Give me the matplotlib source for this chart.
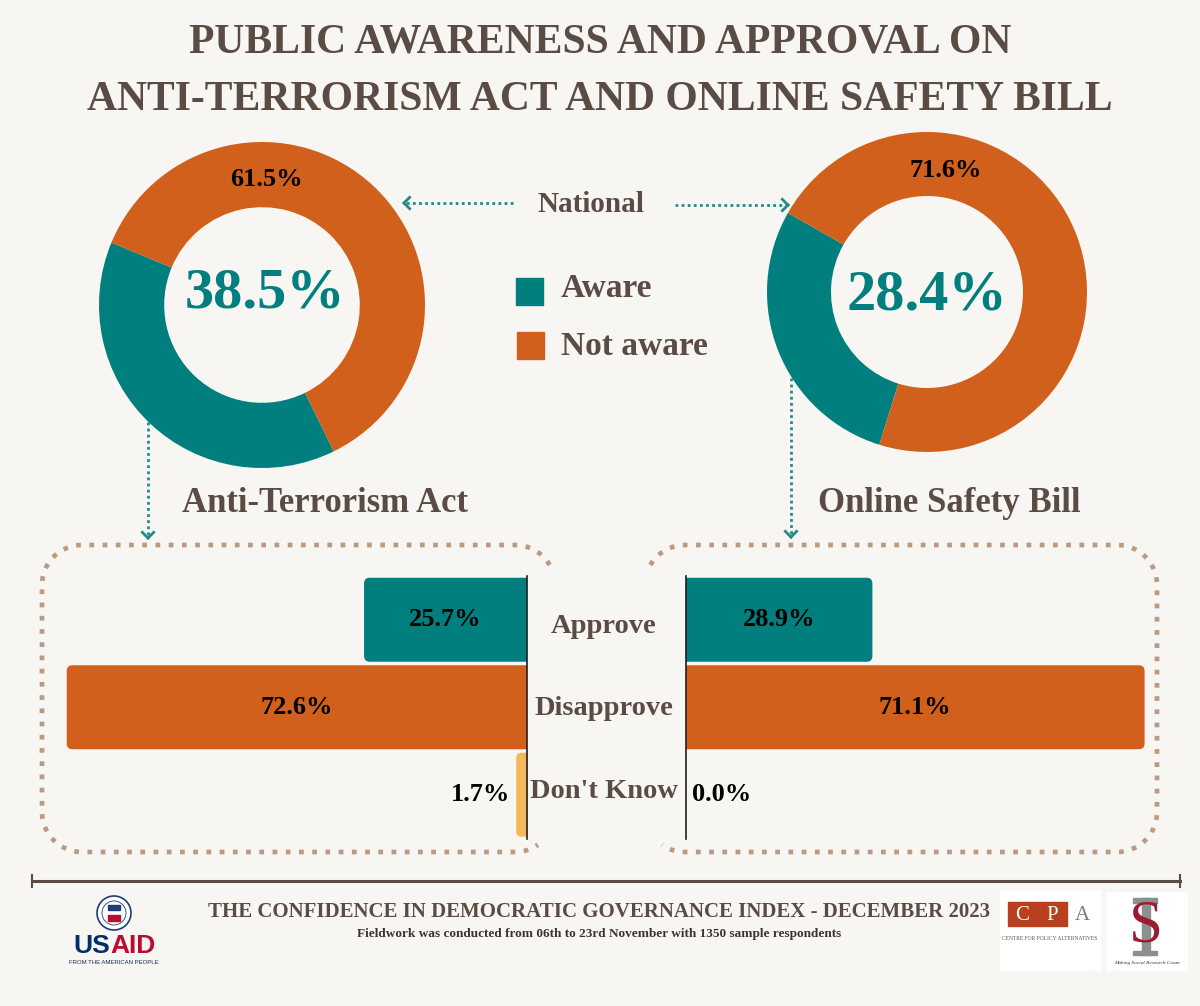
import matplotlib.pyplot as plt
import numpy as np
from matplotlib.patches import FancyBboxPatch, Rectangle, Circle

W, H = 1200, 1006

# data
title_lines = ['PUBLIC AWARENESS AND APPROVAL ON',
               'ANTI-TERRORISM ACT AND ONLINE SAFETY BILL']
bills = ['Anti-Terrorism Act', 'Online Safety Bill']
awareness_labels = ['Aware', 'Not aware']
aware = [38.5, 28.4]
not_aware = [61.5, 71.6]
approval_cats = ['Approve', 'Disapprove', "Don't Know"]
approval_ata = [25.7, 72.6, 1.7]
approval_osb = [28.9, 71.1, 0.0]
footer_title = 'THE CONFIDENCE IN DEMOCRATIC GOVERNANCE INDEX - DECEMBER 2023'
footer_note = 'Fieldwork was conducted from 06th to 23rd November with 1350 sample respondents'

BG = '#F8F6F2'
TEAL = '#007F7E'
ORANGE = '#D0601B'
YELLOW = '#F6B858'
BROWN = '#5A4C45'
TAN = '#BB9A83'
DOT_TEAL = '#23898A'

plt.rcParams['font.family'] = ['Liberation Serif', 'DejaVu Serif']


def rect(x, y, w, h):
    # pixel box (top-left origin) -> figure fraction
    return [x / W, 1 - (y + h) / H, w / W, h / H]


fig = plt.figure(figsize=(W / 100, H / 100), dpi=100, facecolor=BG)
bg = fig.add_axes([0, 0, 1, 1])
bg.set_xlim(0, W)
bg.set_ylim(H, 0)
bg.axis('off')

# title
bg.text(600, 52, title_lines[0], ha='center', va='baseline', fontsize=30,
        weight='bold', color=BROWN)
bg.text(600, 110, title_lines[1], ha='center', va='baseline', fontsize=30,
        weight='bold', color=BROWN)

# donuts
donut_geo = [(262, 305, 163, 157.5, (0.02, 0.07), (0.03, 0.77)),
             (927, 292, 160, 150.4, (0.0, -0.02), (0.12, 0.76))]
for i, (cx, cy, r, start, c_pos, o_pos) in enumerate(donut_geo):
    ax = fig.add_axes(rect(cx - r, cy - r, 2 * r, 2 * r))
    ax.pie([aware[i], not_aware[i]], colors=[TEAL, ORANGE], startangle=start,
           counterclock=True, wedgeprops=dict(width=0.4, edgecolor='none'))
    ax.set_xlim(-1, 1)
    ax.set_ylim(-1, 1)
    ax.text(c_pos[0], c_pos[1], f'{aware[i]}%', ha='center', va='center',
            fontsize=42, weight='bold', color=TEAL)
    ax.text(o_pos[0], o_pos[1], f'{not_aware[i]}%', ha='center', va='center',
            fontsize=19, weight='bold', color='black')

bg.text(325, 512, bills[0], ha='center', va='baseline', fontsize=25,
        weight='bold', color=BROWN)
bg.text(949, 512, bills[1], ha='center', va='baseline', fontsize=25,
        weight='bold', color=BROWN)

# national + legend
bg.text(591, 212, 'National', ha='center', va='baseline', fontsize=21,
        weight='bold', color=BROWN)
bg.add_patch(Rectangle((516, 278), 27, 27, color=TEAL))
bg.add_patch(Rectangle((517, 332), 27, 27, color=ORANGE))
bg.text(561, 297, awareness_labels[0], va='baseline', fontsize=24,
        weight='bold', color=BROWN)
bg.text(561, 355, awareness_labels[1], va='baseline', fontsize=24,
        weight='bold', color=BROWN)


def dotted_arrow(x0, y0, x1, y1):
    bg.plot([x0, x1], [y0, y1], color=DOT_TEAL, lw=2,
            linestyle=(0, (1, 1.2)), solid_capstyle='butt')
    ang = np.arctan2(y1 - y0, x1 - x0)
    for s in (1, -1):
        a = ang + np.pi - s * np.radians(45)
        bg.plot([x1, x1 + 8 * np.cos(a)], [y1, y1 + 8 * np.sin(a)],
                color=DOT_TEAL, lw=2)


dotted_arrow(513, 203, 404, 203)
dotted_arrow(675, 205, 788, 205)
dotted_arrow(148, 422, 148, 538)
dotted_arrow(791, 378, 791, 537)


# dotted panels
def arc(cx, cy, r, a0, a1):
    t = np.radians(np.linspace(a0, a1, 30))
    return list(cx + r * np.cos(t)), list(cy - r * np.sin(t))


def panel(pieces):
    xs, ys = [], []
    for px, py in pieces:
        xs += px
        ys += py
    bg.plot(xs, ys, color=TAN, lw=3.4, linestyle=(0, (1, 1.8)),
            dash_capstyle='butt')


rr = 40
x0, x1, y0, y1 = 42, 555, 545, 852
panel([arc(x1 - rr, y0 + rr, rr, 30, 90), arc(x0 + rr, y0 + rr, rr, 90, 180),
       arc(x0 + rr, y1 - rr, rr, 180, 270), arc(x1 - rr, y1 - rr, rr, 270, 305)])
x0, x1 = 645, 1157
panel([arc(x0 + rr, y0 + rr, rr, 150, 90), arc(x1 - rr, y0 + rr, rr, 90, 0),
       arc(x1 - rr, y1 - rr, rr, 0, -90), arc(x0 + rr, y1 - rr, rr, 270, 235)])

# approval bars
bar_colors = [TEAL, ORANGE, YELLOW]
panels = [(approval_ata, 527, 6.34, True), (approval_osb, 686, 6.45, False)]
for vals, axis_x, scale, left in panels:
    width_px, height_px = 480, 262.5
    xmax = width_px / scale
    box = rect(axis_x - width_px if left else axis_x, 576, width_px, height_px)
    ax = fig.add_axes(box)
    ax.set_facecolor('none')
    y = np.arange(len(vals))
    bars = ax.barh(y, vals, height=0.96, color=bar_colors)
    ax.set_xlim((xmax, 0) if left else (0, xmax))
    ax.set_ylim(len(vals) - 0.5, -0.5)
    asp = scale / (height_px / len(vals))
    for b, c, v in zip(bars, bar_colors, vals):
        b.set_visible(False)
        if v <= 0:
            continue
        dr = min(0.9, v / 2)
        ax.add_patch(FancyBboxPatch((b.get_x() - dr, b.get_y()), b.get_width() + dr,
                                    b.get_height(),
                                    boxstyle=f'round,pad=0,rounding_size={dr}',
                                    mutation_aspect=asp, fc=c, ec='none'))
    for i, v in enumerate(vals):
        if v > 10:
            ax.text(v / 2, i, f'{v}%', ha='center', va='center', fontsize=19,
                    weight='bold', color='black')
        else:
            ax.text(v + 1, i, f'{v}%', ha='right' if left else 'left',
                    va='center', fontsize=19, weight='bold', color='black')
    ax.set_xticks([])
    ax.set_yticks([])
    for s in ax.spines.values():
        s.set_visible(False)
    sp = ax.spines['right' if left else 'left']
    sp.set_visible(True)
    sp.set_color('#1E1E1E')
    sp.set_linewidth(1.2)

for cat, yb in zip(approval_cats, [633, 715, 798]):
    bg.text(604, yb, cat, ha='center', va='baseline', fontsize=20.5,
            weight='bold', color=BROWN)

# footer
bg.plot([32, 1180], [881, 881], color=BROWN, lw=2.2)
bg.plot([32, 32], [875, 887], color=BROWN, lw=1.5)
bg.plot([1180, 1180], [875, 887], color=BROWN, lw=1.5)
bg.text(599, 917, footer_title, ha='center', va='baseline', fontsize=15,
        weight='bold', color=BROWN)
bg.text(599, 937, footer_note, ha='center', va='baseline', fontsize=9.5,
        weight='bold', color='#3A3330')

# USAID logo
bg.add_patch(Circle((114, 913), 17, fc='white', ec='#1F3C73', lw=1.2))
bg.add_patch(Circle((114, 913), 12, fc='white', ec='#1F3C73', lw=0.6))
bg.add_patch(Rectangle((108, 905), 12, 5, color='#1F3C73'))
bg.add_patch(Rectangle((108, 915), 12, 6, color='#BA0C2F'))
bg.text(110, 953, 'US', ha='right', va='baseline', fontsize=19, weight='bold',
        color='#002F6C', family='Liberation Sans')
bg.text(110, 953, 'AID', ha='left', va='baseline', fontsize=19, weight='bold',
        color='#BA0C2F', family='Liberation Sans')
bg.text(114, 962, 'FROM THE AMERICAN PEOPLE', ha='center', va='center',
        fontsize=4.3, color='#1F2A55', family='Liberation Sans')

# CPA logo
bg.add_patch(Rectangle((1000, 891), 100, 79, color='white'))
bg.add_patch(Rectangle((1008, 902), 59, 24, color='#B8401F'))
bg.text(1022, 915, 'C', ha='center', va='center', fontsize=15, color='white')
bg.text(1052, 915, 'P', ha='center', va='center', fontsize=15, color='white')
bg.text(1082, 915, 'A', ha='center', va='center', fontsize=15, color='#7A7A7A')
bg.text(1050, 938, 'CENTRE FOR POLICY ALTERNATIVES', ha='center', va='center',
        fontsize=4, color='#555555')

# SJ logo
bg.add_patch(Rectangle((1107, 892), 80, 78, color='white'))
bg.add_patch(Rectangle((1133, 898), 24, 5, color='#8E8E8E'))
bg.add_patch(Rectangle((1142, 898), 8, 57, color='#8E8E8E'))
bg.add_patch(Rectangle((1133, 951), 24, 4, color='#8E8E8E'))
bg.text(1146, 927, 'S', ha='center', va='center', fontsize=44, color='#9B1B30')
bg.text(1147, 963, 'Making Social Research Count', ha='center', va='center',
        fontsize=3.8, style='italic', color='#333333')

fig.savefig('out.png', dpi=100, facecolor=BG)
